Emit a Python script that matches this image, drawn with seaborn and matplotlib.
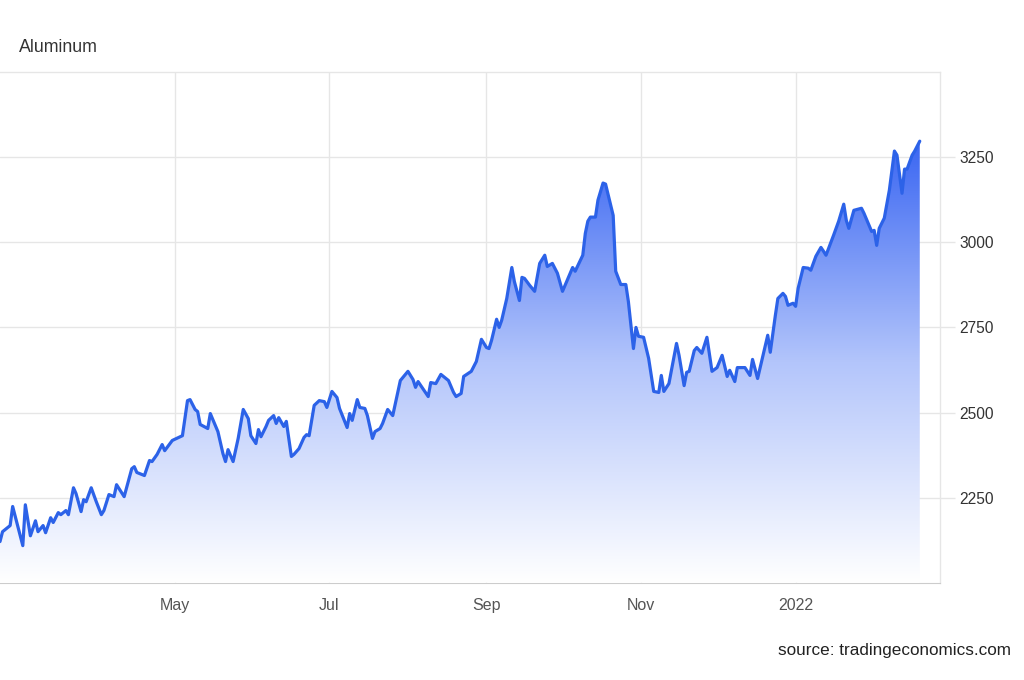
import numpy as np
import pandas as pd
import matplotlib
matplotlib.use("Agg")
import matplotlib.pyplot as plt
import matplotlib.dates as mdates
from matplotlib.colors import LinearSegmentedColormap
import seaborn as sns

# ---------------------------------- data ----------------------------------
dates = [
    "2021-02-21", "2021-02-22", "2021-02-25", "2021-02-26", "2021-03-02", "2021-03-03", "2021-03-05",
    "2021-03-07", "2021-03-08", "2021-03-10", "2021-03-11", "2021-03-13", "2021-03-14", "2021-03-16",
    "2021-03-17", "2021-03-19", "2021-03-20", "2021-03-22", "2021-03-23", "2021-03-25", "2021-03-26",
    "2021-03-27", "2021-03-29", "2021-03-31", "2021-04-02", "2021-04-03", "2021-04-05", "2021-04-07",
    "2021-04-08", "2021-04-11", "2021-04-14", "2021-04-15", "2021-04-16", "2021-04-19", "2021-04-21",
    "2021-04-22", "2021-04-24", "2021-04-26", "2021-04-27", "2021-04-30", "2021-05-04", "2021-05-06",
    "2021-05-07", "2021-05-09", "2021-05-10", "2021-05-11", "2021-05-14", "2021-05-15", "2021-05-18",
    "2021-05-20", "2021-05-21", "2021-05-22", "2021-05-24", "2021-05-26", "2021-05-28", "2021-05-30",
    "2021-05-31", "2021-06-02", "2021-06-03", "2021-06-04", "2021-06-06", "2021-06-07", "2021-06-09",
    "2021-06-10", "2021-06-11", "2021-06-13", "2021-06-14", "2021-06-16", "2021-06-17", "2021-06-19",
    "2021-06-21", "2021-06-22", "2021-06-23", "2021-06-25", "2021-06-27", "2021-06-29", "2021-06-30",
    "2021-07-02", "2021-07-04", "2021-07-05", "2021-07-08", "2021-07-09", "2021-07-10", "2021-07-12",
    "2021-07-13", "2021-07-15", "2021-07-16", "2021-07-18", "2021-07-19", "2021-07-21", "2021-07-22",
    "2021-07-24", "2021-07-26", "2021-07-29", "2021-07-30", "2021-08-01", "2021-08-03", "2021-08-04",
    "2021-08-05", "2021-08-09", "2021-08-10", "2021-08-12", "2021-08-14", "2021-08-17", "2021-08-19",
    "2021-08-20", "2021-08-22", "2021-08-23", "2021-08-26", "2021-08-28", "2021-08-30", "2021-09-01",
    "2021-09-02", "2021-09-03", "2021-09-05", "2021-09-06", "2021-09-07", "2021-09-09", "2021-09-11",
    "2021-09-12", "2021-09-14", "2021-09-15", "2021-09-16", "2021-09-18", "2021-09-20", "2021-09-22",
    "2021-09-24", "2021-09-25", "2021-09-27", "2021-09-29", "2021-10-01", "2021-10-03", "2021-10-05",
    "2021-10-06", "2021-10-09", "2021-10-10", "2021-10-11", "2021-10-12", "2021-10-14", "2021-10-15",
    "2021-10-17", "2021-10-18", "2021-10-21", "2021-10-22", "2021-10-24", "2021-10-26", "2021-10-27",
    "2021-10-29", "2021-10-30", "2021-10-31", "2021-11-02", "2021-11-04", "2021-11-06", "2021-11-08",
    "2021-11-09", "2021-11-10", "2021-11-12", "2021-11-15", "2021-11-16", "2021-11-18", "2021-11-19",
    "2021-11-20", "2021-11-22", "2021-11-23", "2021-11-25", "2021-11-27", "2021-11-29", "2021-12-01",
    "2021-12-03", "2021-12-05", "2021-12-06", "2021-12-08", "2021-12-09", "2021-12-12", "2021-12-14",
    "2021-12-15", "2021-12-17", "2021-12-21", "2021-12-22", "2021-12-24", "2021-12-25", "2021-12-27",
    "2021-12-28", "2021-12-29", "2021-12-31", "2022-01-01", "2022-01-02", "2022-01-04", "2022-01-06",
    "2022-01-07", "2022-01-09", "2022-01-11", "2022-01-12", "2022-01-13", "2022-01-16", "2022-01-18",
    "2022-01-20", "2022-01-21", "2022-01-22", "2022-01-24", "2022-01-27", "2022-01-28", "2022-01-31",
    "2022-02-01", "2022-02-02", "2022-02-03", "2022-02-05", "2022-02-07", "2022-02-09", "2022-02-10",
    "2022-02-12", "2022-02-13", "2022-02-14", "2022-02-16", "2022-02-17", "2022-02-19",
]
prices = [
    2121, 2150, 2168, 2224, 2109, 2229, 2138,
    2182, 2150, 2168, 2147, 2191, 2177, 2206,
    2200, 2212, 2200, 2279, 2262, 2209, 2244,
    2238, 2279, 2238, 2200, 2212, 2259, 2253,
    2288, 2253, 2335, 2341, 2324, 2315, 2359,
    2356, 2377, 2406, 2388, 2418, 2432, 2535,
    2538, 2509, 2503, 2465, 2453, 2497, 2444,
    2379, 2356, 2391, 2356, 2424, 2509, 2482,
    2432, 2409, 2450, 2429, 2459, 2477, 2491,
    2468, 2485, 2459, 2474, 2371, 2377, 2394,
    2427, 2435, 2432, 2521, 2535, 2532, 2515,
    2562, 2544, 2512, 2456, 2497, 2477, 2538,
    2515, 2512, 2491, 2424, 2444, 2453, 2468,
    2509, 2491, 2594, 2603, 2621, 2597, 2574,
    2591, 2547, 2588, 2585, 2612, 2594, 2559,
    2547, 2556, 2606, 2621, 2650, 2715, 2691,
    2688, 2712, 2774, 2750, 2771, 2835, 2926,
    2885, 2829, 2897, 2894, 2874, 2856, 2938,
    2962, 2929, 2938, 2909, 2856, 2891, 2926,
    2915, 2962, 3026, 3062, 3074, 3074, 3124,
    3174, 3171, 3079, 2915, 2876, 2876, 2826,
    2688, 2750, 2724, 2721, 2659, 2562, 2559,
    2609, 2562, 2585, 2703, 2668, 2579, 2618,
    2621, 2682, 2691, 2674, 2721, 2621, 2632,
    2668, 2606, 2624, 2591, 2632, 2632, 2609,
    2656, 2600, 2727, 2677, 2785, 2835, 2850,
    2841, 2815, 2821, 2812, 2865, 2926, 2924,
    2918, 2959, 2985, 2974, 2962, 3021, 3062,
    3112, 3065, 3041, 3094, 3100, 3085, 3032,
    3035, 2991, 3041, 3071, 3153, 3268, 3256,
    3144, 3215, 3215, 3256, 3268, 3297,
]
tick_dates = ["2021-05-01", "2021-07-01", "2021-09-01", "2021-11-01", "2022-01-01"]
tick_labels = ["May", "Jul", "Sep", "Nov", "2022"]
y_ticks = [2250, 2500, 2750, 3000, 3250]

df = pd.DataFrame({"date": pd.to_datetime(dates), "price": prices})

# ---------------------------------- plot ----------------------------------
sns.set_style("white")
plt.rcParams["font.family"] = ["Liberation Sans", "DejaVu Sans"]

fig = plt.figure(figsize=(10.24, 6.8), dpi=100)
ax = fig.add_axes([0, 0.143, 0.918, 0.751])

sns.lineplot(data=df, x="date", y="price", ax=ax, color="#2c62e8", linewidth=2.3, zorder=4)

# gradient fill under the line
y_min, y_max = 2000, 3500
poly = ax.fill_between(df["date"], df["price"], y_min, color="none", lw=0)
xnum = mdates.date2num(df["date"])
fade = LinearSegmentedColormap.from_list("fade", ["#ffffff", "#b3c5fb", "#3a66f2"])
grad = np.linspace(0, 1, 256).reshape(-1, 1)
img = ax.imshow(grad, cmap=fade, aspect="auto", origin="lower",
                extent=[xnum.min(), xnum.max(), y_min, df["price"].max()], zorder=3)
img.set_clip_path(poly.get_paths()[0], transform=ax.transData)

ax.set_xlim(pd.Timestamp("2021-02-21"), pd.Timestamp("2022-02-27"))
ax.set_ylim(y_min, y_max)

ax.set_xticks(pd.to_datetime(tick_dates))
ax.set_xticklabels(tick_labels)
ax.set_yticks(y_ticks)
ax.yaxis.tick_right()
ax.set_xlabel("")
ax.set_ylabel("")

ax.grid(True, color="#e6e6e6", linewidth=1)
ax.set_axisbelow(True)
ax.tick_params(axis="x", length=0, pad=11, labelsize=11.5, labelcolor="#555555")
ax.tick_params(axis="y", length=11, width=1, color="#e6e6e6", pad=3, labelsize=11.2, labelcolor="#333333")

for side in ["top", "right"]:
    ax.spines[side].set_color("#e6e6e6")
    ax.spines[side].set_linewidth(1)
ax.spines["bottom"].set_color("#cccccc")
ax.spines["left"].set_visible(False)

fig.text(0.019, 1 - 47 / 680, "Aluminum", fontsize=12.8, color="#333333", va="center")
fig.text(0.987, 1 - 651 / 680, "source: tradingeconomics.com", fontsize=12.3, color="#222222",
         ha="right", va="center")

fig.savefig("out.png", dpi=100)
